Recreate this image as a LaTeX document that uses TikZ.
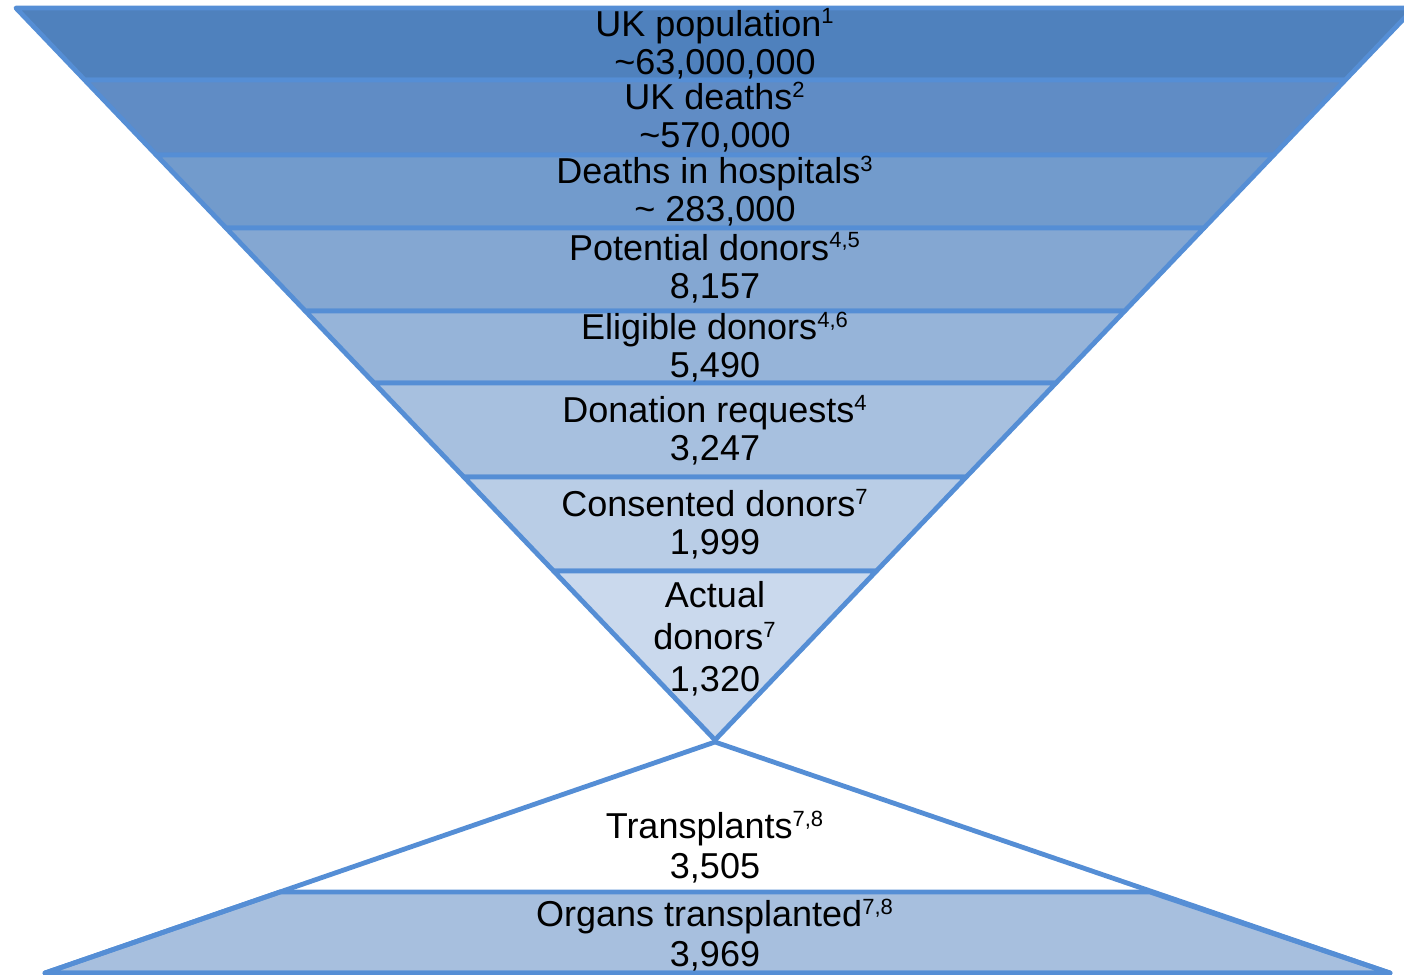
\documentclass[tikz,border=0pt]{standalone}
\usepackage{fontspec}
\setmainfont{Liberation Sans}
\definecolor{edge}{RGB}{85,142,213}
\definecolor{b1}{RGB}{79,129,189}
\definecolor{b2}{RGB}{96,140,197}
\definecolor{b3}{RGB}{114,155,204}
\definecolor{b4}{RGB}{132,167,210}
\definecolor{b5}{RGB}{150,180,217}
\definecolor{b6}{RGB}{167,192,223}
\definecolor{b7}{RGB}{185,205,230}
\definecolor{b8}{RGB}{202,217,237}
\definecolor{borg}{RGB}{167,191,222}
\tikzset{
  band/.style={draw=edge, line width=2.4pt, line join=round},
  lbl/.style={align=center, font=\fontsize{18pt}{19pt}\selectfont, inner sep=0pt, text=black}
}
\newcommand{\spx}[1]{\textsuperscript{\fontsize{11pt}{11pt}\selectfont #1}}
\newcommand{\lx}[1]{{715-0.955*(740-#1)}}
\newcommand{\rx}[1]{{715+0.955*(740-#1)}}
\begin{document}
\begin{tikzpicture}[x=0.5pt,y=-0.5pt]
\useasboundingbox (0,0) rectangle (1404,975);
% top funnel bands
\foreach \ya/\yb/\c in {8/80/b1, 80/155/b2, 155/228/b3, 228/311/b4, 311/383/b5, 383/477/b6, 477/571/b7}{
  \draw[band, fill=\c] (\lx{\ya},\ya) -- (\rx{\ya},\ya) -- (\rx{\yb},\yb) -- (\lx{\yb},\yb) -- cycle;
}
\draw[band, fill=b8] (\lx{571},571) -- (\rx{571},571) -- (715,740) -- cycle;
% bottom pyramid
\coordinate (apex) at (715,742);
\coordinate (bl) at (45,973);
\coordinate (br) at (1390,973);
\coordinate (ml) at (280,892);
\coordinate (mr) at (1150,892);
\draw[band, fill=borg] (ml) -- (mr) -- (br) -- (bl) -- cycle;
\draw[band] (apex) -- (bl) -- (br) -- cycle;
% labels
\node[lbl] (t1) at (715,44) {UK population\spx{1}\\\textasciitilde 63,000,000};
\node[lbl] (t2) at (715,117) {UK deaths\spx{2}\\\textasciitilde 570,000};
\node[lbl] (t3) at (715,191) {Deaths in hospitals\spx{3}\\\textasciitilde\ 283,000};
\node[lbl] (t4) at (715,268) {Potential donors\spx{4,5}\\8,157};
\node[lbl] (t5) at (715,347) {Eligible donors\spx{4,6}\\5,490};
\node[lbl] (t6) at (715,430) {Donation requests\spx{4}\\3,247};
\node[lbl] (t7) at (715,524) {Consented donors\spx{7}\\1,999};
\node[lbl, font=\fontsize{18pt}{21pt}\selectfont] (t8) at (715,639) {Actual\\donors\spx{7}\\1,320};
\node[lbl, font=\fontsize{18pt}{20pt}\selectfont] (t9) at (715,847) {Transplants\spx{7,8}\\3,505};
\node[lbl, font=\fontsize{18pt}{20pt}\selectfont] (t10) at (715,935) {Organs transplanted\spx{7,8}\\3,969};
\end{tikzpicture}
\end{document}
